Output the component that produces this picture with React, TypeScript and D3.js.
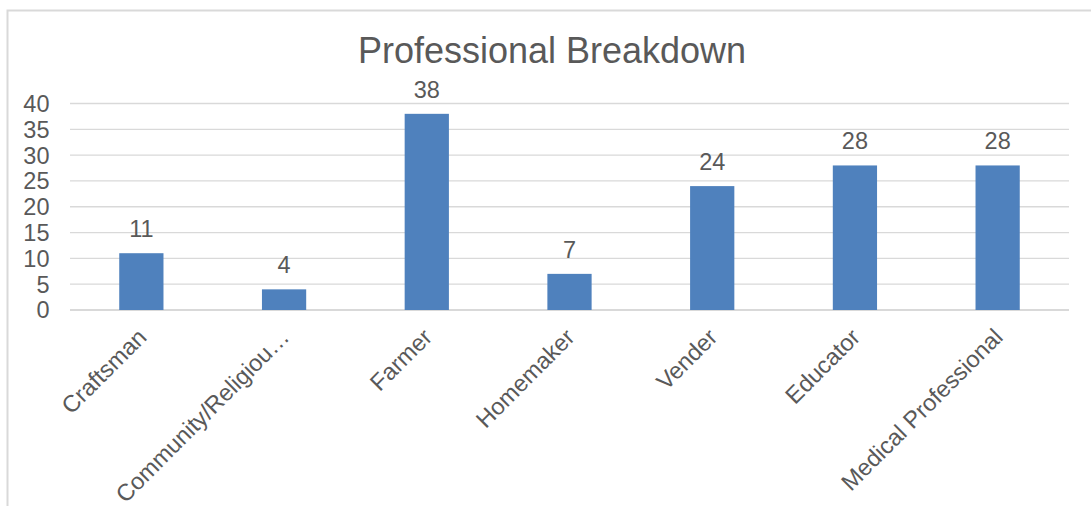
import React from "react";
import * as d3 from "d3";

const categories = ["Craftsman", "Community/Religiou…", "Farmer", "Homemaker", "Vender", "Educator", "Medical Professional"];
const values = [11, 4, 38, 7, 24, 28, 28];
const yTicks = [0, 5, 10, 15, 20, 25, 30, 35, 40];
const title = "Professional Breakdown";

const W = 1091;
const H = 506;
const FONT = "'Liberation Sans', Arial, sans-serif";
const TEXT = "#595959";
const GRID = "#d9d9d9";
const BAR = "#4f81bd";

export default function App() {
  const x = d3.scaleBand<string>().domain(categories).range([70, 1069]).paddingInner(0.69).paddingOuter(0.345);
  const y = d3.scaleLinear().domain([0, 40]).range([310, 103.5]);
  const fs = 23.5;
  return (
    <svg width={W} height={H} style={{ position: "absolute", left: 0, top: 0, background: "#fff" }} fontFamily={FONT}>
      <rect x={7.5} y={10.5} width={1100} height={520} fill="#fff" stroke={GRID} strokeWidth={2} />
      <text x={552} y={62.5} textAnchor="middle" fontSize={36} fill={TEXT}>{title}</text>
      {yTicks.map((t) => (
        <g key={t}>
          <line x1={70} x2={1069} y1={y(t)} y2={y(t)} stroke={GRID} strokeWidth={t === 0 ? 2 : 1.3} />
          <text x={49.5} y={y(t)} dy="0.36em" textAnchor="end" fontSize={fs} fill={TEXT}>{t}</text>
        </g>
      ))}
      {categories.map((c, i) => {
        const bx = x(c)!;
        const bw = x.bandwidth();
        const cx = bx + bw / 2;
        return (
          <g key={c}>
            <rect x={bx} y={y(values[i])} width={bw} height={y(0) - y(values[i])} fill={BAR} />
            <text x={cx} y={y(values[i]) - 16} textAnchor="middle" fontSize={fs} fill={TEXT}>{values[i]}</text>
            <text transform={`translate(${cx - 5},${327}) rotate(-45)`} textAnchor="end" dy="0.7em" fontSize={fs} fill={TEXT}>{c}</text>
          </g>
        );
      })}
    </svg>
  );
}
